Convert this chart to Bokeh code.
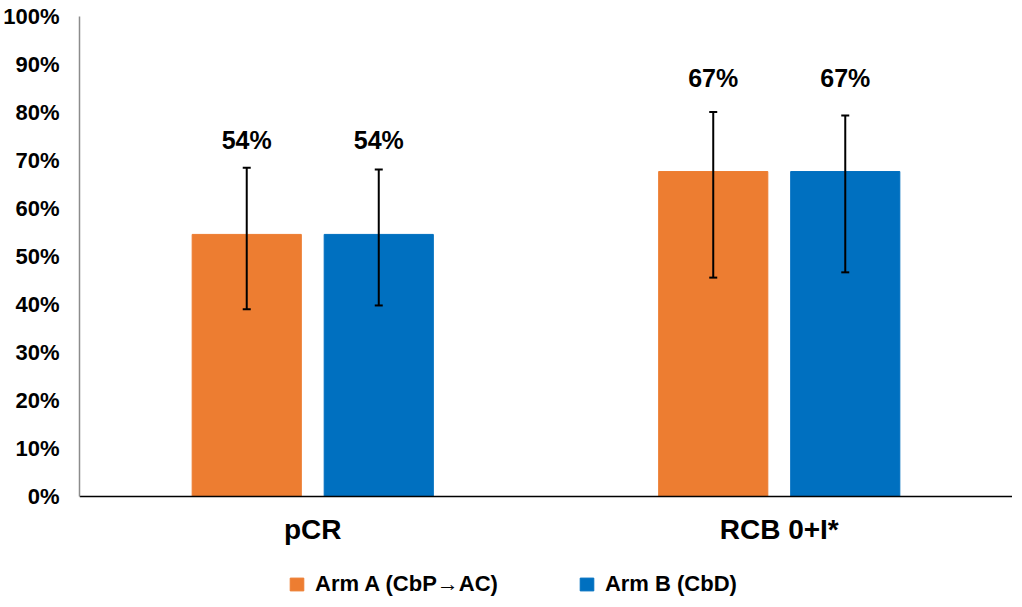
from bokeh.plotting import figure
from bokeh.models import (ColumnDataSource, FactorRange, Range1d, Whisker, Legend,
                          LegendItem, PrintfTickFormatter, FixedTicker, LabelSet)
from bokeh.core.properties import value
from bokeh.transform import dodge
from bokeh.embed import file_html
from bokeh.resources import INLINE

categories = ["pCR", "RCB 0+I*"]
arm_a = [54.6, 67.7]
arm_b = [54.6, 67.7]
arm_a_lower = [39.0, 45.6]
arm_a_upper = [68.5, 80.1]
arm_b_lower = [39.8, 46.7]
arm_b_upper = [68.1, 79.4]
arm_a_labels = ["54%", "67%"]
arm_b_labels = ["54%", "67%"]
series_names = ["Arm A (CbP\u2192AC)", "Arm B (CbD)"]
colors = ["#ED7D31", "#0070C0"]
y_ticks = list(range(0, 101, 10))

FONT = "Liberation Sans"

src = ColumnDataSource(dict(cat=categories, a=arm_a, b=arm_b,
                            alo=arm_a_lower, ahi=arm_a_upper,
                            blo=arm_b_lower, bhi=arm_b_upper,
                            alab=arm_a_labels, blab=arm_b_labels))

# frame extends below 0 so that the category axis and the legend fit inside it
p = figure(x_range=FactorRange(*categories, range_padding=0),
           y_range=Range1d(-21.667, 100), frame_width=933, frame_height=584,
           output_backend="svg", toolbar_location=None,
           min_border_left=73, min_border_right=0, min_border_top=16,
           min_border_bottom=0)
p.outline_line_color = None
p.grid.grid_line_color = None

off = 0.1415
w = 0.234
ra = p.vbar(x=dodge("cat", -off, range=p.x_range), top="a", width=w, source=src,
            fill_color=colors[0], line_color=colors[0])
rb = p.vbar(x=dodge("cat", off, range=p.x_range), top="b", width=w, source=src,
            fill_color=colors[1], line_color=colors[1])

for base, lo, hi in [(dodge("cat", -off, range=p.x_range), "alo", "ahi"),
                     (dodge("cat", off, range=p.x_range), "blo", "bhi")]:
    wk = Whisker(source=src, base=base, lower=lo, upper=hi, level="overlay",
                 line_color="black", line_width=2)
    wk.upper_head.size = 8
    wk.lower_head.size = 8
    wk.upper_head.line_width = 2
    wk.lower_head.line_width = 2
    wk.upper_head.line_color = "black"
    wk.lower_head.line_color = "black"
    p.add_layout(wk)

for xcol, ycol, lab in [(dodge("cat", -off, range=p.x_range), "a", "alab"),
                        (dodge("cat", off, range=p.x_range), "b", "blab")]:
    ls = LabelSet(x=xcol, y=ycol, text=lab, source=src, y_offset=94,
                  text_align="center", text_baseline="middle",
                  text_font=value(FONT), text_font_style="bold",
                  text_font_size="25px", text_color="black")
    p.add_layout(ls)

p.yaxis.ticker = FixedTicker(ticks=y_ticks)
p.yaxis.bounds = (0, 100)
p.yaxis.formatter = PrintfTickFormatter(format="%d%%")
p.yaxis.major_label_text_font = FONT
p.yaxis.major_label_text_font_style = "bold"
p.yaxis.major_label_text_font_size = "22px"
p.yaxis.major_label_text_color = "black"
p.yaxis.major_tick_line_color = None
p.yaxis.major_tick_out = 0
p.yaxis.major_tick_in = 0
p.yaxis.minor_tick_line_color = None
p.yaxis.axis_line_color = "#8c8c8c"
p.yaxis.axis_line_width = 1.5
p.yaxis.major_label_standoff = 20

p.xaxis.fixed_location = 0
p.xaxis.major_label_text_font = FONT
p.xaxis.major_label_text_font_style = "bold"
p.xaxis.major_label_text_font_size = "28px"
p.xaxis.major_label_text_color = "black"
p.xaxis.major_tick_line_color = None
p.xaxis.major_tick_out = 0
p.xaxis.major_tick_in = 0
p.xaxis.minor_tick_line_color = None
p.xaxis.axis_line_color = "black"
p.xaxis.axis_line_width = 1.5
p.xaxis.major_label_standoff = 18

legend = Legend(items=[LegendItem(label=series_names[0], renderers=[ra]),
                       LegendItem(label=series_names[1], renderers=[rb])],
                orientation="horizontal", location=(209, 3),
                label_text_font=FONT, label_text_font_style="bold",
                label_text_font_size="22px", label_text_color="black",
                glyph_width=17, glyph_height=16, label_standoff=10,
                spacing=80, border_line_color=None, background_fill_alpha=0,
                margin=0, padding=0)
p.add_layout(legend, "center")

open("out.html", "w").write(file_html(p, INLINE))
